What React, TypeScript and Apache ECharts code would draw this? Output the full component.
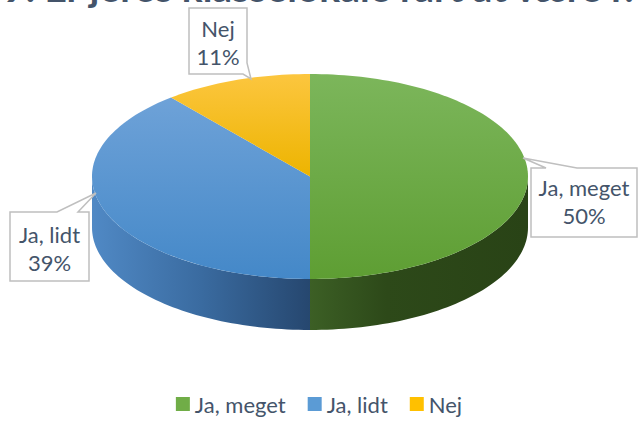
import React, { useEffect, useRef } from "react";
import * as echarts from "echarts";

// ---- data ----
const categories = ["Ja, meget", "Ja, lidt", "Nej"];
const values = [50, 39, 11];
const titleText = "9. Er jeres klasselokale rart at være i?";

// ---- styles ----
const legendColors = ["#70AD47", "#5B9BD5", "#FFC000"];
const topGradients = [
  ["#7CB65B", "#5E9E33"],
  ["#6EA2D8", "#4488C8"],
  ["#FCC63F", "#EDB400"],
];
const sideGradients = [
  [["#3C5F25", 0], ["#2D4919", 0.35], ["#294316", 1]],
  [["#5089C5", 0], ["#3A6BA0", 0.5], ["#26476F", 1]],
  [["#B08000", 0], ["#8A6400", 1]],
];
const TEXT = "#44546A";
const FONT = "Lato";
const PIE = { cx: 310, cy: 176.5, rx: 218, ry: 102.5, depth: 51 };

const callouts = [
  {
    pts: [[531, 168], [546, 168], [523, 158], [577, 168], [637, 168], [637, 237], [531, 237]],
    tx: 584, ty: 201,
  },
  {
    pts: [[10, 212], [57, 212], [96, 193], [78, 212], [89, 212], [89, 281], [10, 281]],
    tx: 49.5, ty: 248,
  },
  {
    pts: [[189, 8], [247, 8], [247, 63], [251, 79], [243, 74], [189, 74]],
    tx: 218, ty: 42,
  },
];

const total = values.reduce((a, b) => a + b, 0);

function pt(theta: number, dy: number): number[] {
  return [PIE.cx + PIE.rx * Math.sin(theta), PIE.cy - PIE.ry * Math.cos(theta) + dy];
}
function arcPts(a: number, b: number, dy: number): number[][] {
  const n = Math.max(2, Math.ceil((b - a) / (Math.PI / 120)));
  const out: number[][] = [];
  for (let k = 0; k <= n; k++) out.push(pt(a + ((b - a) * k) / n, dy));
  return out;
}

function makeRenderItem(i: number) {
  return (params: any, api: any) => {
    const v = api.value(0);
    let startV = 0;
    for (let j = 0; j < i; j++) startV += values[j];
    const a = (startV / total) * 2 * Math.PI;
    const b = ((startV + v) / total) * 2 * Math.PI;
    const children: any[] = [];
    const sa = Math.max(a, Math.PI / 2);
    const sb = Math.min(b, (3 * Math.PI) / 2);
    if (sb > sa) {
      const top = arcPts(sa, sb, 0);
      const bot = arcPts(sa, sb, PIE.depth).reverse();
      children.push({
        type: "polygon",
        shape: { points: top.concat(bot) },
        style: {
          fill: new echarts.graphic.LinearGradient(
            0, 0, 1, 0,
            sideGradients[i].map((s: any) => ({ offset: s[1], color: s[0] }))
          ),
          stroke: null,
        },
      });
    }
    children.push({
      type: "polygon",
      shape: { points: [[PIE.cx, PIE.cy]].concat(arcPts(a, b, 0)) },
      style: {
        fill: new echarts.graphic.LinearGradient(0, 0, 0, 1, [
          { offset: 0, color: topGradients[i][0] },
          { offset: 1, color: topGradients[i][1] },
        ]),
        stroke: null,
      },
    });
    return { type: "group", children };
  };
}

export default function App() {
  const ref = useRef<HTMLDivElement>(null);
  useEffect(() => {
    if (!ref.current) return;
    const chart = echarts.init(ref.current, null, { renderer: "svg" });
    const series = categories.map((name, i) => ({
      type: "custom",
      name,
      coordinateSystem: "none",
      itemStyle: { color: legendColors[i] },
      data: [[values[i]]],
      renderItem: makeRenderItem(i),
      silent: true,
    }));
    const graphics: any[] = [
      {
        type: "text",
        x: 321,
        y: -13,
        style: {
          text: titleText,
          fill: TEXT,
          font: `bold 39px ${FONT}`,
          align: "center",
          verticalAlign: "middle",
        },
      },
    ];
    callouts.forEach((c, i) => {
      graphics.push({
        type: "polygon",
        shape: { points: c.pts },
        style: { fill: "#FFFFFF", stroke: "#BFBFBF", lineWidth: 1.5 },
        z: 10,
      });
      graphics.push({
        type: "text",
        x: c.tx,
        y: c.ty,
        z: 11,
        style: {
          text: `${categories[i]}\n${values[i]}%`,
          fill: TEXT,
          font: `22px ${FONT}`,
          lineHeight: 28,
          align: "center",
          verticalAlign: "middle",
        },
      });
    });
    chart.setOption({
      animation: false,
      backgroundColor: "#FFFFFF",
      legend: {
        data: categories,
        bottom: 1,
        left: "center",
        icon: "rect",
        itemWidth: 14,
        itemHeight: 14,
        itemGap: 22,
        textStyle: { color: TEXT, fontSize: 22, fontFamily: FONT },
      },
      graphic: graphics,
      series,
    });
    return () => chart.dispose();
  }, []);
  return (
    <div
      ref={ref}
      style={{ position: "fixed", left: 0, top: 0, width: 638, height: 421 }}
    />
  );
}
